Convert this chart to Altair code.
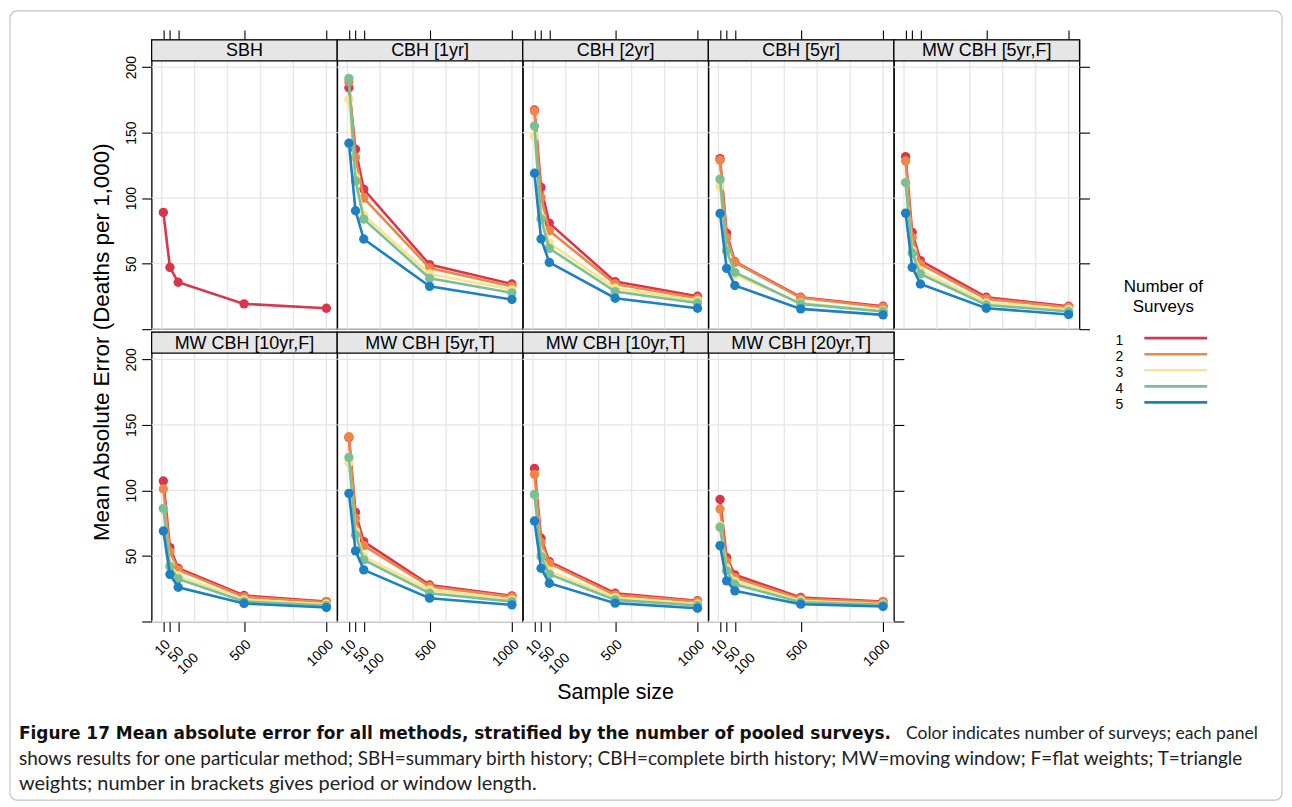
import altair as alt
import pandas as pd

# ---------------- data ----------------
sample_sizes = [10, 50, 100, 500, 1000]
survey_counts = [1, 2, 3, 4, 5]
series_colors = ["#d6374d", "#ef8649", "#fde38b", "#7bbf95", "#1c80c2"]

panel_names = ["SBH", "CBH [1yr]", "CBH [2yr]", "CBH [5yr]", "MW CBH [5yr,F]",
               "MW CBH [10yr,F]", "MW CBH [5yr,T]", "MW CBH [10yr,T]", "MW CBH [20yr,T]"]

mae_sbh = [[89.1, 47.2, 35.8, 19.3, 16.0]]
mae_cbh_1yr = [[184.3, 137.3, 106.8, 49.3, 34.5],
               [188.6, 131.0, 100.0, 46.7, 32.7],
               [175.4, 116.0, 87.0, 42.1, 30.2],
               [191.4, 113.2, 84.0, 38.8, 27.7],
               [141.9, 90.4, 68.8, 32.7, 22.6]]
mae_cbh_2yr = [[167.3, 108.1, 80.9, 36.3, 25.1],
               [166.5, 100.5, 75.1, 34.5, 23.6],
               [147.5, 85.3, 65.7, 31.2, 21.8],
               [155.1, 84.0, 61.7, 28.7, 20.0],
               [119.0, 68.8, 51.0, 23.6, 16.0]]
mae_cbh_5yr = [[130.2, 73.3, 51.5, 24.4, 17.5],
               [128.9, 70.0, 51.0, 23.9, 16.8],
               [108.9, 58.6, 41.3, 20.0, 14.2],
               [114.5, 59.9, 43.4, 19.3, 13.5],
               [88.3, 46.4, 33.3, 15.5, 10.9]]
mae_mw_5yr_f = [[131.7, 73.9, 52.3, 24.4, 17.5],
                [128.4, 70.0, 49.7, 23.1, 16.8],
                [112.0, 59.9, 44.7, 20.0, 15.0],
                [111.9, 58.1, 42.1, 18.5, 13.5],
                [88.6, 47.2, 34.5, 16.0, 11.2]]
mae_mw_10yr_f = [[107.2, 56.4, 40.6, 19.8, 15.2],
                 [101.1, 53.3, 39.4, 18.8, 14.7],
                 [86.0, 43.2, 35.0, 16.5, 13.2],
                 [86.3, 41.9, 32.5, 15.2, 12.2],
                 [69.1, 36.0, 26.1, 13.7, 10.7]]
mae_mw_5yr_t = [[140.5, 83.3, 61.0, 27.9, 19.6],
                [141.0, 78.7, 57.9, 26.7, 18.8],
                [121.4, 68.6, 49.5, 24.1, 16.5],
                [125.2, 66.0, 47.0, 21.6, 15.2],
                [97.8, 53.9, 39.4, 17.8, 12.7]]
mae_mw_10yr_t = [[116.8, 63.5, 45.7, 21.6, 15.8],
                 [112.3, 60.4, 44.4, 20.3, 15.2],
                 [96.5, 50.8, 38.6, 18.3, 13.2],
                 [97.0, 49.5, 36.0, 16.5, 12.2],
                 [76.7, 40.6, 29.2, 14.0, 10.1]]
mae_mw_20yr_t = [[93.2, 48.8, 35.6, 18.3, 15.2],
                 [85.9, 45.7, 33.5, 17.3, 14.7],
                 [73.1, 40.6, 30.5, 15.8, 13.2],
                 [71.9, 38.6, 28.4, 14.7, 12.7],
                 [57.9, 31.0, 23.4, 13.2, 11.4]]

panel_values = [mae_sbh, mae_cbh_1yr, mae_cbh_2yr, mae_cbh_5yr, mae_mw_5yr_f,
                mae_mw_10yr_f, mae_mw_5yr_t, mae_mw_10yr_t, mae_mw_20yr_t]

x_ticks = [10, 50, 100, 500, 1000]
x_grid = [0, 200, 400, 600, 800, 1000]
y_ticks = [0, 50, 100, 150, 200]

caption_bold = "Figure 17 Mean absolute error for all methods, stratified by the number of pooled surveys."
caption_l1 = "Color indicates number of surveys; each panel"
caption_l2 = ("shows results for one particular method; SBH=summary birth history; CBH=complete birth history; "
              "MW=moving window; F=flat weights; T=triangle")
caption_l3 = "weights; number in brackets gives period or window length."

# ---------------- layout constants ----------------
W, H, STRIP = 186, 290, 21
FONT = "Liberation Sans"
CAP_FONT = "Lato"

x_scale = alt.Scale(domain=[-61, 1066], nice=False, zero=False)
y_scale = alt.Scale(domain=[0, 220.8], nice=False, zero=False)
color_scale = alt.Scale(domain=survey_counts, range=series_colors)


def panel(idx, row, col):
    name = panel_names[idx]
    vals = panel_values[idx]
    recs = []
    for i, series in enumerate(vals):
        for j, v in enumerate(series):
            recs.append({"n": survey_counts[i], "size": sample_sizes[j], "mae": v})
    df = pd.DataFrame(recs)

    if row == 0:
        xaxis = alt.Axis(orient="top", values=x_ticks, labels=False, ticks=True, tickSize=10,
                         domain=False, grid=False, title=None)
    else:
        xaxis = alt.Axis(orient="bottom", values=x_ticks, labels=False, ticks=True, tickSize=10,
                         domain=False, grid=False, title=None)
    if col == 0:
        yaxis = alt.Axis(orient="left", values=y_ticks, tickSize=10, domain=False, grid=False,
                         title=None, labelAngle=270, labelAlign="center", labelBaseline="bottom",
                         labelFontSize=14, labelPadding=3, labelOverlap=False,
                         labelExpr="datum.value == 0 ? '' : datum.label")
    elif (row == 0 and col == 4) or (row == 1 and col == 3):
        yaxis = alt.Axis(orient="right", values=y_ticks, tickSize=10, domain=False, grid=False,
                         title=None, labels=False)
    else:
        yaxis = None

    def X(field):
        return alt.X(field, scale=x_scale, axis=xaxis)

    def Y(field):
        if yaxis is None:
            return alt.Y(field, scale=y_scale, axis=None)
        return alt.Y(field, scale=y_scale, axis=yaxis)

    vgrid = alt.Chart(pd.DataFrame({"gx": x_grid})).mark_rule(
        color="#e6e6e6", strokeWidth=1.3).encode(x=X("gx:Q"))
    hgrid = alt.Chart(pd.DataFrame({"gy": y_ticks})).mark_rule(
        color="#e6e6e6", strokeWidth=1.3).encode(y=Y("gy:Q"))

    layers = [vgrid, hgrid]
    base = alt.Chart(df)
    for k in survey_counts[:len(vals)]:
        sub = base.transform_filter(alt.datum.n == k)
        enc = dict(x=X("size:Q"), y=Y("mae:Q"),
                   color=alt.Color("n:O", scale=color_scale, legend=None))
        layers.append(sub.mark_line(strokeWidth=2.6).encode(**enc))
        layers.append(sub.mark_circle(size=88, opacity=1).encode(**enc))

    if row == 1:
        # rotated tick labels; the crowded 50 / 100 labels are staggered as in the original
        tick_df = pd.DataFrame({"t": x_ticks})
        tick_base = alt.Chart(tick_df)
        groups = [("datum.t != 50 && datum.t != 100", 0), ("datum.t == 50", 9.5),
                  ("datum.t == 100", 19)]
        for cond, shift in groups:
            layers.append(tick_base.transform_filter(cond).mark_text(
                font=FONT, fontSize=14, angle=315, align="right", baseline="top",
                dy=shift, color="black").encode(
                x=X("t:Q"), y=alt.value(H + 16), text="t:Q"))

    lab = pd.DataFrame({"label": [name]})
    strip = alt.Chart(lab).mark_rect(fill="#e6e6e6", stroke="black", strokeWidth=1.2).encode(
        x=alt.value(0), x2=alt.value(W), y=alt.value(0), y2=alt.value(STRIP))
    strip_text = alt.Chart(lab).mark_text(font=FONT, fontSize=18, color="black",
                                          baseline="middle", align="center").encode(
        x=alt.value(W / 2), y=alt.value(STRIP / 2 + 1), text="label:N")
    layers += [strip, strip_text]
    return alt.layer(*layers).properties(width=W, height=H)


cells = []
for idx in range(9):
    r, c = (0, idx) if idx < 5 else (1, idx - 5)
    cells.append(panel(idx, r, c))

# ---------------- decoration cell (row 2, col 5) : legend, titles, caption, frame ----------------
dummy = pd.DataFrame({"d": [0]})
legend_df = pd.DataFrame({"n": survey_counts})
leg_y = alt.Y("n:O", scale=alt.Scale(type="point", domain=survey_counts, range=[6, 70.4], padding=0),
              axis=None)

frame = alt.Chart(dummy).mark_rect(fill="white", fillOpacity=0, stroke="#c4c4c4", strokeWidth=1.2,
                                   cornerRadius=7).encode(
    x=alt.value(-886), x2=alt.value(389), y=alt.value(-322), y2=alt.value(469))
ytitle = alt.Chart(dummy).mark_text(text="Mean Absolute Error (Deaths per 1,000)", font=FONT,
                                    fontSize=22.5, angle=270, color="black").encode(
    x=alt.value(-794), y=alt.value(10))
xtitle = alt.Chart(dummy).mark_text(text="Sample size", font=FONT, fontSize=21.5,
                                    color="black").encode(x=alt.value(-279), y=alt.value(362))
leg_t1 = alt.Chart(dummy).mark_text(text="Number of", font=FONT, fontSize=17,
                                    color="black").encode(x=alt.value(270), y=alt.value(-45))
leg_t2 = alt.Chart(dummy).mark_text(text="Surveys", font=FONT, fontSize=17,
                                    color="black").encode(x=alt.value(270), y=alt.value(-25))
leg_lines = alt.Chart(legend_df).mark_rule(strokeWidth=2.6).encode(
    x=alt.value(251), x2=alt.value(314), y=leg_y,
    color=alt.Color("n:O", scale=color_scale, legend=None))
leg_labels = alt.Chart(legend_df).mark_text(font=FONT, fontSize=14, dy=3, color="black").encode(
    x=alt.value(226), y=leg_y, text="n:O")

cap1b = alt.Chart(dummy).mark_text(text=caption_bold, font="DejaVu Sans", fontSize=17, fontWeight="bold",
                                   align="left", color="#111").encode(x=alt.value(-877), y=alt.value(403))
cap1 = alt.Chart(dummy).mark_text(text=caption_l1, font=CAP_FONT, fontSize=17.6, align="left",
                                  color="#222").encode(x=alt.value(12), y=alt.value(403))
cap2 = alt.Chart(dummy).mark_text(text=caption_l2, font=CAP_FONT, fontSize=19, align="left",
                                  color="#222").encode(x=alt.value(-877), y=alt.value(428))
cap3 = alt.Chart(dummy).mark_text(text=caption_l3, font=CAP_FONT, fontSize=20, align="left",
                                  color="#222").encode(x=alt.value(-877), y=alt.value(453))

deco = alt.layer(frame, ytitle, xtitle, leg_t1, leg_t2, leg_lines, leg_labels,
                 cap1b, cap1, cap2, cap3).properties(
    width=W, height=H, view=alt.ViewBackground(stroke="transparent"))
cells.append(deco)

chart = alt.concat(*cells, columns=5, spacing={"row": 3, "column": 0}, bounds="flush").properties(
    padding=0
).configure_view(stroke="black", strokeWidth=1.3).configure_axis(
    tickColor="black", tickWidth=1.1, labelColor="black", labelFont=FONT
)

chart.save("out.html", embed_options={"renderer": "svg", "actions": False})
